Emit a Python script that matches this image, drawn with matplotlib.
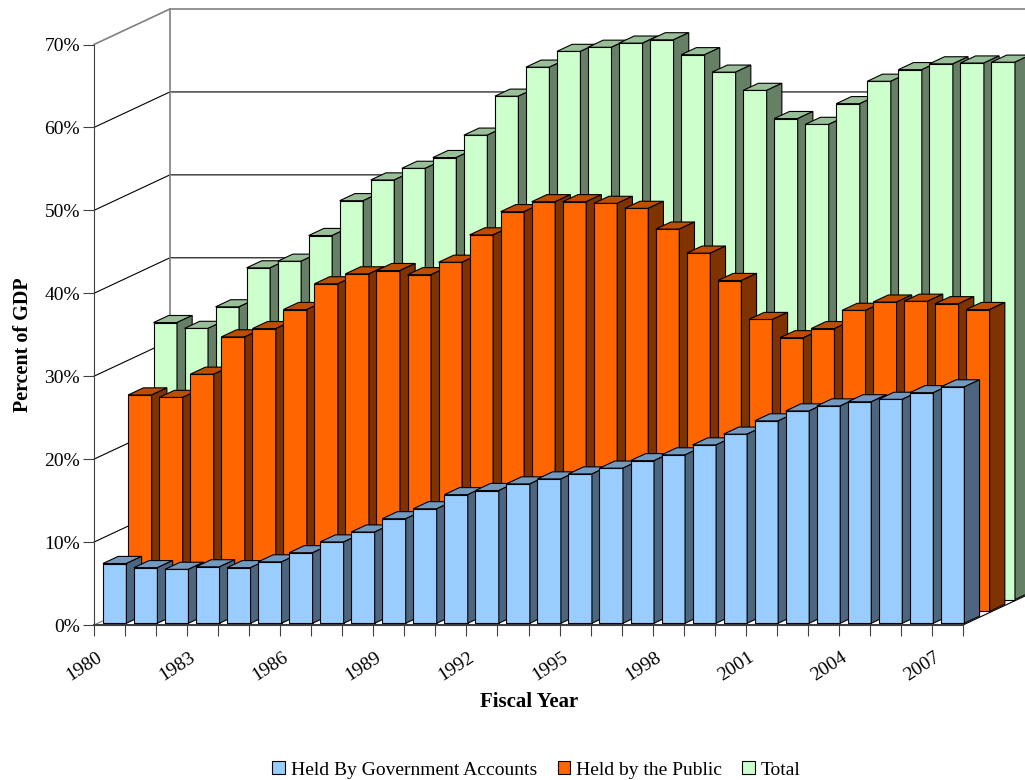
import matplotlib
matplotlib.use('Agg')
import matplotlib.pyplot as plt
from matplotlib.patches import Polygon, Patch
from matplotlib.transforms import ScaledTranslation

plt.rcParams['font.family'] = ['Liberation Serif', 'DejaVu Serif']

years = list(range(1980, 2008))
held_gov = [7.2, 6.7, 6.5, 6.8, 6.7, 7.4, 8.5, 9.8, 11.0, 12.6, 13.8, 15.5, 16.0, 16.8,
            17.4, 18.0, 18.7, 19.6, 20.3, 21.5, 22.8, 24.4, 25.6, 26.2, 26.7, 27.0, 27.8, 28.5]
held_public = [26.1, 25.8, 28.6, 33.1, 34.1, 36.4, 39.5, 40.7, 41.1, 40.6, 42.1, 45.4, 48.2, 49.4,
               49.4, 49.2, 48.6, 46.1, 43.2, 39.9, 35.2, 33.0, 34.1, 36.3, 37.3, 37.4, 37.1, 36.4]
total = [33.4, 32.7, 35.3, 40.0, 40.8, 43.9, 48.1, 50.6, 52.0, 53.3, 56.0, 60.7, 64.2, 66.1,
         66.6, 67.1, 67.5, 65.7, 63.6, 61.4, 58.0, 57.3, 59.8, 62.5, 63.9, 64.6, 64.7, 64.8]
yticks = [0, 10, 20, 30, 40, 50, 60, 70]

series = [
    ('Held By Government Accounts', held_gov, '#99CCFF', '#7399BF', '#4D6680'),
    ('Held by the Public', held_public, '#FF6600', '#BF4D00', '#803300'),
    ('Total', total, '#CCFFCC', '#99BF99', '#668066'),
]

# oblique depth of one row, in data units
DX = 25.3 / 31.04
DY = 11.83 / 8.293
WALL = 3
BAR_W = 0.757
BAR_LEFT = 0.165
BAR_START = 0.15
BAR_DEPTH = 0.6


def proj(x, y, d=0):
    return (x + d * DX, y + d * DY)


fig = plt.figure(figsize=(10.25, 7.8), dpi=100)
ax = fig.add_axes([94 / 1025, (780 - 625) / 780, 869 / 1025, 580.5 / 780])
ax.set_xlim(0, len(years))
ax.set_ylim(0, 70)
for s in ['top', 'right']:
    ax.spines[s].set_visible(False)
ax.spines['left'].set_color('#404040')
ax.spines['bottom'].set_color('#404040')
ax.spines['bottom'].set_linewidth(1.5)

# walls and floor
xfar = len(years) + 3
for v in yticks:
    col = '#808080' if v in (0, 70) else 'black'
    lw = 1.2 if v == 70 else 0.8
    pts = [proj(0, v), proj(0, v, WALL), proj(xfar, v, WALL)]
    ax.plot([p[0] for p in pts], [p[1] for p in pts], color=col, lw=lw, clip_on=False, zorder=1)
pts = [proj(0, 0, WALL), proj(0, 70, WALL)]
ax.plot([p[0] for p in pts], [p[1] for p in pts], color='#808080', lw=1.2, clip_on=False, zorder=1)
pts = [proj(len(years), 0), proj(len(years), 0, WALL)]
ax.plot([p[0] for p in pts], [p[1] for p in pts], color='black', lw=0.8, clip_on=False, zorder=1)

# back row first, bars left to right so each one covers the side of the last
z = 2
for row in [2, 1, 0]:
    name, vals, front, top, side = series[row]
    d0 = row + BAR_START
    d1 = d0 + BAR_DEPTH
    for i, v in enumerate(vals):
        x0 = i + BAR_LEFT
        x1 = x0 + BAR_W
        faces = [
            ([proj(x0, 0, d0), proj(x1, 0, d0), proj(x1, v, d0), proj(x0, v, d0)], front),
            ([proj(x0, v, d0), proj(x1, v, d0), proj(x1, v, d1), proj(x0, v, d1)], top),
            ([proj(x1, 0, d0), proj(x1, 0, d1), proj(x1, v, d1), proj(x1, v, d0)], side),
        ]
        for verts, col in faces:
            ax.add_patch(Polygon(verts, closed=True, facecolor=col, edgecolor='black',
                                 lw=0.8, clip_on=False, zorder=z))
        z += 1

ax.set_yticks(yticks)
ax.set_yticklabels([str(v) + '%' for v in yticks], fontsize=14)
ax.set_xticks(range(len(years) + 1))
ax.set_xticklabels([str(y) if (y - 1980) % 3 == 0 else '' for y in years] + [''],
                   fontsize=14, rotation=33, ha='right', rotation_mode='anchor')
ax.tick_params(axis='both', length=8, width=0.8, color='#404040')
ax.tick_params(axis='y', pad=2)
ax.tick_params(axis='x', pad=9)
shift = ScaledTranslation(2 / 100, 0, fig.dpi_scale_trans)
for lbl in ax.get_xticklabels():
    lbl.set_transform(lbl.get_transform() + shift)
ax.set_xlabel('Fiscal Year', fontsize=15, fontweight='bold', va='center')
ax.xaxis.set_label_coords((529 - 94) / 869, -(702 - 625) / 580.5, transform=ax.transAxes)
ax.set_ylabel('Percent of GDP', fontsize=14.5, fontweight='bold', va='center')
ax.yaxis.set_label_coords((23 - 94) / 869, (625 - 345) / 580.5, transform=ax.transAxes)

handles = [Patch(facecolor=s[2], edgecolor='black', lw=0.8) for s in series]
fig.legend(handles, [s[0] for s in series], ncol=3, frameon=False, fontsize=14,
           loc='center', bbox_to_anchor=(536.5 / 1025, (780 - 770) / 780),
           handlelength=0.65, handleheight=0.65, handletextpad=0.3, columnspacing=1.05,
           borderpad=0, borderaxespad=0)

fig.savefig('out.png', dpi=100)
